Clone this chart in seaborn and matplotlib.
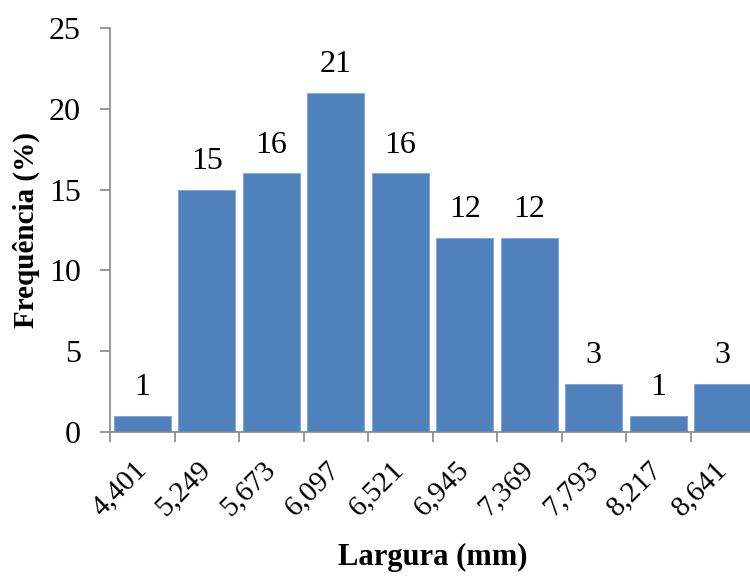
import matplotlib
matplotlib.use("Agg")
import matplotlib.pyplot as plt
import seaborn as sns
import pandas as pd

# Width classes (mm) and percentage frequency of each class
classes = ["4,401", "5,249", "5,673", "6,097", "6,521", "6,945", "7,369", "7,793", "8,217", "8,641"]
freq = [1, 15, 16, 21, 16, 12, 12, 3, 1, 3]
y_ticks = [0, 5, 10, 15, 20, 25]

sns.set_theme(style="white")
plt.rcParams["font.family"] = ["Liberation Serif", "DejaVu Serif"]
plt.rcParams["text.color"] = "black"
plt.rcParams["axes.labelcolor"] = "black"
plt.rcParams["xtick.labelcolor"] = "black"
plt.rcParams["ytick.labelcolor"] = "black"

FS = 23      # y ticks and value labels
FS_X = 21    # rotated class labels
FS_LAB = 22  # axis titles

df = pd.DataFrame({"classe": classes, "freq": freq})

fig = plt.figure(figsize=(7.5, 5.79), dpi=100)
W, H = 750, 579
ax = fig.add_axes([110 / W, (H - 432) / H, (755 - 110) / W, (432 - 28) / H])

sns.barplot(data=df, x="classe", y="freq", color="#4F81BD", saturation=1,
            width=0.89, edgecolor="#7FA3D0", linewidth=0.6, ax=ax)

ax.set_xlim(-0.5, len(classes) - 0.5)
ax.set_ylim(0, 25)
ax.set_yticks(y_ticks)
ax.set_yticklabels([str(t) for t in y_ticks], fontsize=FS)

# value labels over the bars
for i, v in enumerate(freq):
    ax.text(i, v + 0.85, str(v), ha="center", va="bottom", fontsize=FS, color="black")

# category labels under bar centres, tick marks at class boundaries
ax.set_xticks(range(len(classes)))
ax.set_xticklabels(classes, fontsize=FS_X, rotation=45, ha="right",
                   va="center", rotation_mode="anchor")
ax.tick_params(axis="x", which="major", length=0, pad=24)
ax.set_xticks([i - 0.5 for i in range(len(classes) + 1)], minor=True)
ax.tick_params(axis="x", which="minor", length=7, width=1.2, color="#868686", direction="out", bottom=True)
ax.tick_params(axis="y", which="major", length=7, width=1.2, color="#868686", direction="out", left=True, pad=14)

for side in ["top", "right"]:
    ax.spines[side].set_visible(False)
for side in ["left", "bottom"]:
    ax.spines[side].set_color("#868686")
    ax.spines[side].set_linewidth(1.2)

ax.set_xlabel("Largura (mm)", fontsize=FS_LAB, fontweight="bold", labelpad=16)
ax.set_ylabel("Frequência (%)", fontsize=21, fontweight="bold", labelpad=6)

fig.savefig("out.png", dpi=100)
